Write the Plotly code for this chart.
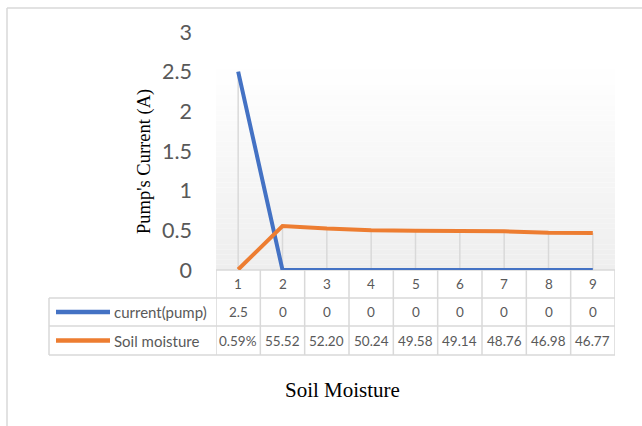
import plotly.graph_objects as go

# ---- data ----
categories = [1, 2, 3, 4, 5, 6, 7, 8, 9]
current_pump = [2.5, 0, 0, 0, 0, 0, 0, 0, 0]
soil_labels = ["0.59%", "55.52", "52.20", "50.24", "49.58", "49.14", "48.76", "46.98", "46.77"]
soil_values = [0.0059, 0.5552, 0.5220, 0.5024, 0.4958, 0.4914, 0.4876, 0.4698, 0.4677]
series_names = ["current(pump)", "Soil moisture"]
y_ticks = [0, 0.5, 1, 1.5, 2, 2.5, 3]
y_tick_text = ["0", "0.5", "1", "1.5", "2", "2.5", "3"]

W, H = 642, 426
L, R, T, B = 216, 27, 32, 156
PH = H - T - B
PW = W - L - R

def py(Y):  # pixel y -> paper y
    return (H - B - Y) / PH

def px(X):  # pixel x -> paper x
    return (X - L) / PW

BLUE = "#4472C4"
ORANGE = "#ED7D31"
GRID = "#d9d9d9"
TXT = "#595959"
FONT = "Lato, Calibri, sans-serif"
SERIF = "Liberation Serif, Times New Roman, serif"

fig = go.Figure()

# drop lines
dx, dy = [], []
for c, a, b in zip(categories, current_pump, soil_values):
    dx += [c, c, None]
    dy += [0, max(a, b), None]
fig.add_trace(go.Scatter(x=dx, y=dy, mode="lines", line=dict(color=GRID, width=1.5),
                         showlegend=False, hoverinfo="skip"))

fig.add_trace(go.Scatter(x=categories, y=current_pump, mode="lines", name=series_names[0],
                         line=dict(color=BLUE, width=4), showlegend=False))
fig.add_trace(go.Scatter(x=categories, y=soil_values, mode="lines", name=series_names[1],
                         line=dict(color=ORANGE, width=4), showlegend=False))

shapes = []
# gradient background of plot area
top_px, bot_px = 64, H - B
nb = 40
for i in range(nb):
    y0 = top_px + (bot_px - top_px) * i / nb
    y1 = top_px + (bot_px - top_px) * (i + 1) / nb
    g = round(255 - 17 * (i + 0.5) / nb)
    shapes.append(dict(type="rect", xref="paper", yref="paper", x0=0, x1=1,
                       y0=py(y1), y1=py(y0), fillcolor=f"rgb({g},{g},{g})",
                       line=dict(width=0), layer="below"))

# outer border of chart (top and left edges visible)
shapes.append(dict(type="line", xref="paper", yref="paper", x0=px(7), x1=px(660),
                   y0=py(8), y1=py(8), line=dict(color=GRID, width=1.5), layer="below"))
shapes.append(dict(type="line", xref="paper", yref="paper", x0=px(7), x1=px(7),
                   y0=py(8), y1=py(440), line=dict(color=GRID, width=1.5), layer="below"))

# data table
row_y = [270, 298, 326, 355]
leg_left = 49
tw = 1.5
shapes.append(dict(type="line", xref="paper", yref="paper", x0=0, x1=1,
                   y0=py(row_y[0]), y1=py(row_y[0]), line=dict(color=GRID, width=tw), layer="below"))
for Y in row_y[1:]:
    shapes.append(dict(type="line", xref="paper", yref="paper", x0=px(leg_left), x1=1,
                       y0=py(Y), y1=py(Y), line=dict(color=GRID, width=tw)))
for k in range(len(categories) + 1):
    xv = categories[0] - 0.5 + k
    shapes.append(dict(type="line", xref="x", yref="paper", x0=xv, x1=xv,
                       y0=py(row_y[0]), y1=py(row_y[-1]), line=dict(color=GRID, width=tw)))
shapes.append(dict(type="line", xref="paper", yref="paper", x0=px(leg_left), x1=px(leg_left),
                   y0=py(row_y[1]), y1=py(row_y[-1]), line=dict(color=GRID, width=tw)))

# legend keys in table
for (Y0, Y1), col in zip([(row_y[1], row_y[2]), (row_y[2], row_y[3])], [BLUE, ORANGE]):
    ym = py((Y0 + Y1) / 2)
    shapes.append(dict(type="line", xref="paper", yref="paper", x0=px(56), x1=px(110),
                       y0=ym, y1=ym, line=dict(color=col, width=4.5)))

def cell(x, Y, text, xref="x", xanchor="center", size=13.5):
    return dict(x=x, y=py(Y), xref=xref, yref="paper", text=text, xanchor=xanchor,
                yanchor="middle", showarrow=False, font=dict(family=FONT, size=size, color=TXT))

ann = []
for c in categories:
    ann.append(cell(c, (row_y[0] + row_y[1]) / 2, str(c)))
for c, v in zip(categories, current_pump):
    ann.append(cell(c, (row_y[1] + row_y[2]) / 2, f"{v:g}"))
for c, s in zip(categories, soil_labels):
    ann.append(cell(c, (row_y[2] + row_y[3]) / 2, s))
for name, (Y0, Y1) in zip(series_names, [(row_y[1], row_y[2]), (row_y[2], row_y[3])]):
    ann.append(cell(px(112), (Y0 + Y1) / 2, name, xref="paper", xanchor="left", size=15))

# axis titles
ann.append(dict(x=px(144), y=py(162), xref="paper", yref="paper", text="Pump's Current (A)",
                textangle=-90, xanchor="center", yanchor="middle", showarrow=False,
                font=dict(family=SERIF, size=18.5, color="black")))
ann.append(dict(x=px(342), y=py(390), xref="paper", yref="paper", text="Soil Moisture",
                xanchor="center", yanchor="middle", showarrow=False,
                font=dict(family=SERIF, size=21, color="black")))

fig.update_layout(
    width=W, height=H,
    margin=dict(l=L, r=R, t=T, b=B, pad=0),
    paper_bgcolor="white", plot_bgcolor="rgba(0,0,0,0)",
    shapes=shapes, annotations=ann,
    hovermode=False,
    xaxis=dict(range=[0.5, 9.5], showticklabels=False, showgrid=False, zeroline=False,
               showline=False, fixedrange=True),
    yaxis=dict(range=[0, 3], tickvals=y_ticks, ticktext=y_tick_text, showgrid=False,
               zeroline=False, showline=False, ticks="", ticklabelstandoff=23,
               tickfont=dict(family=FONT, size=21.5, color=TXT), fixedrange=True),
)

fig.write_html("out.html", config={"displayModeBar": False})
